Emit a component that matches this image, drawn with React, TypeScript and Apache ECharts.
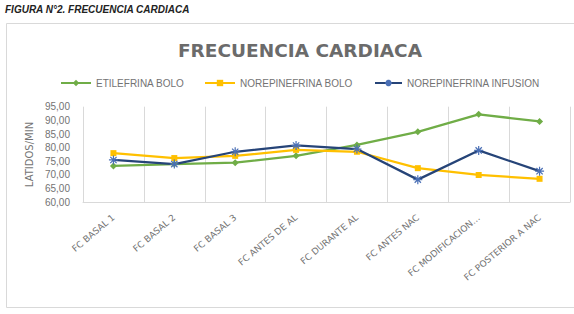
import React, { useEffect, useRef } from "react";
import * as echarts from "echarts";

const categories = [
  "FC BASAL 1",
  "FC BASAL 2",
  "FC BASAL 3",
  "FC ANTES DE AL",
  "FC DURANTE AL",
  "FC ANTES NAC",
  "FC MODIFICACION…",
  "FC POSTERIOR A NAC",
];
const seriesNames = ["ETILEFRINA BOLO", "NOREPINEFRINA BOLO", "NOREPINEFRINA INFUSION"];
const etilefrinaBolo = [73.3, 74.0, 74.5, 77.0, 81.0, 85.8, 92.2, 89.6];
const norepinefrinaBolo = [78.0, 76.2, 77.0, 79.2, 78.5, 72.5, 70.0, 68.6];
const norepinefrinaInfusion = [75.5, 74.0, 78.5, 80.8, 79.5, 68.3, 79.0, 71.4];
const yMin = 60;
const yMax = 95;
const yStep = 5;

const GREEN = "#70ad47";
const YELLOW = "#ffc000";
const BLUE = "#264478";
const TITLE = "#6b6b6b";
const LIGHT = "#737373";
const ASTERISK = "path://M0,5 L10,5 M5,0 L5,10 M1.5,1.5 L8.5,8.5 M8.5,1.5 L1.5,8.5";

export default function App() {
  const ref = useRef<HTMLDivElement>(null);
  useEffect(() => {
    if (!ref.current) return;
    const chart = echarts.init(ref.current, undefined, { renderer: "svg" });
    const legendText = { color: LIGHT, fontSize: 10, fontFamily: "Liberation Sans, Arial, sans-serif" };
    chart.setOption({
      animation: false,
      backgroundColor: "#ffffff",
      title: {
        text: "FRECUENCIA CARDIACA",
        left: 295,
        textAlign: "center",
        top: 36,
        textStyle: { color: TITLE, fontSize: 18.5, fontWeight: "bold", fontFamily: "DejaVu Sans, sans-serif" },
      },
      graphic: [
        {
          type: "text",
          left: 5,
          top: 4,
          style: {
            text: "FIGURA N°2. FRECUENCIA CARDIACA",
            fill: "#222",
            font: "italic bold 10px 'Liberation Sans Narrow', 'Liberation Sans', Arial",
          },
        },
        {
          type: "rect",
          shape: { x: 6.5, y: 23.5, width: 580, height: 284 },
          style: { fill: "none", stroke: "#d9d9d9", lineWidth: 1 },
          z: -1,
        },
      ],
      legend: [
        { data: [seriesNames[0]], left: 55, top: 73, itemWidth: 30, itemHeight: 8, textStyle: legendText },
        { data: [seriesNames[1]], left: 199, top: 73, itemWidth: 30, itemHeight: 8, textStyle: legendText },
        { data: [seriesNames[2]], left: 369, top: 73, itemWidth: 27, itemHeight: 8, textStyle: legendText },
      ],
      grid: { left: 83, right: 4, top: 106.7, bottom: 111.7, containLabel: false },
      xAxis: {
        type: "category",
        data: categories,
        boundaryGap: true,
        axisLine: { show: true, lineStyle: { color: "#d9d9d9" } },
        axisTick: { show: false },
        splitLine: { show: true, lineStyle: { color: "#d9d9d9", width: 1 } },
        axisLabel: {
          rotate: 40,
          interval: 0,
          margin: 14,
          color: LIGHT,
          fontSize: 9,
          fontFamily: "DejaVu Sans, sans-serif",
        },
      },
      yAxis: {
        type: "value",
        min: yMin,
        max: yMax,
        interval: yStep,
        name: "LATIDOS/MIN",
        nameLocation: "middle",
        nameRotate: 90,
        nameGap: 44,
        nameTextStyle: { color: LIGHT, fontSize: 10, fontFamily: "DejaVu Sans, sans-serif" },
        axisLine: { show: false },
        axisTick: { show: false },
        splitLine: { show: false },
        axisLabel: {
          color: LIGHT,
          fontSize: 10,
          margin: 13,
          fontFamily: "Liberation Sans, Arial, sans-serif",
          formatter: (v: number) => v.toFixed(2).replace(".", ","),
        },
      },
      series: [
        {
          name: seriesNames[0],
          type: "line",
          data: etilefrinaBolo,
          symbol: "diamond",
          symbolSize: 7,
          lineStyle: { color: GREEN, width: 2.25 },
          itemStyle: { color: GREEN },
        },
        {
          name: seriesNames[1],
          type: "line",
          data: norepinefrinaBolo,
          symbol: "rect",
          symbolSize: 6,
          lineStyle: { color: YELLOW, width: 2.25 },
          itemStyle: { color: YELLOW },
        },
        {
          name: seriesNames[2],
          type: "line",
          data: norepinefrinaInfusion,
          symbol: ASTERISK,
          symbolSize: 9,
          lineStyle: { color: BLUE, width: 2.25 },
          itemStyle: { color: "rgba(0,0,0,0)", borderColor: "#4a6fb5", borderWidth: 1.2 },
        },
      ],
    });
    return () => chart.dispose();
  }, []);
  return (
    <div
      ref={ref}
      style={{ position: "fixed", left: 0, top: 0, width: 574, height: 314, background: "#fff" }}
    />
  );
}
